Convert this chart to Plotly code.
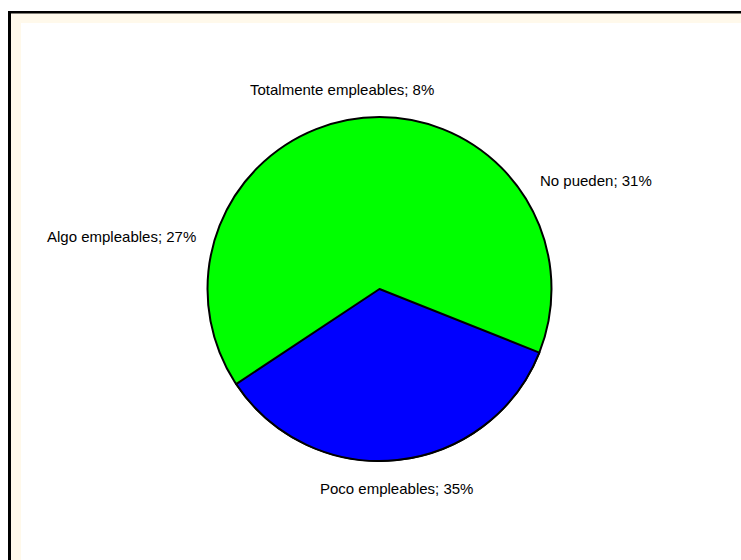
import plotly.graph_objects as go

# Data
categories = ["Poco empleables", "Algo empleables", "Totalmente empleables", "No pueden"]
percent = [35, 27, 8, 31]
slice_colors = ["#0000FF", "rgba(0,0,0,0)", "rgba(0,0,0,0)", "rgba(0,0,0,0)"]
slice_line_widths = [2, 0, 0, 0]

# label positions (paper coords) for each category, same order as categories
label_x = [397 / 741, 121.5 / 741, 342 / 741, 595.5 / 741]
label_y = [1 - 488 / 560, 1 - 236 / 560, 1 - 90 / 560, 1 - 181 / 560]

W, H = 741, 560
dom_x = [207.5 / W, 551.5 / W]
dom_y = [1 - 461 / H, 1 - 117 / H]

fig = go.Figure()

# background disc (green) with black outline
fig.add_trace(go.Pie(
    values=[sum(percent)],
    labels=["Total"],
    marker=dict(colors=["#00FF00"], line=dict(color="black", width=2)),
    textinfo="none", hoverinfo="skip", sort=False, showlegend=False,
    domain=dict(x=dom_x, y=dom_y),
))

fig.add_trace(go.Pie(
    values=percent,
    labels=categories,
    marker=dict(colors=slice_colors, line=dict(color="black", width=slice_line_widths)),
    textinfo="none", sort=False, direction="clockwise", rotation=111.7,
    showlegend=False,
    domain=dict(x=dom_x, y=dom_y),
))

annotations = []
for c, p, x, y in zip(categories, percent, label_x, label_y):
    annotations.append(dict(
        x=x, y=y, xref="paper", yref="paper", text=f"{c}; {p}%",
        showarrow=False, xanchor="center", yanchor="middle",
        font=dict(family="Liberation Sans, Arial, sans-serif", size=15, color="#000000"),
    ))

def px(x):
    return x / W

def py(y):
    return 1 - y / H

shapes = [
    dict(type="rect", xref="paper", yref="paper", x0=px(8), x1=px(800), y0=py(11), y1=py(620),
         fillcolor="black", line=dict(width=0), layer="below"),
    dict(type="rect", xref="paper", yref="paper", x0=px(11), x1=px(800), y0=py(13.5), y1=py(620),
         fillcolor="#FFF9EB", line=dict(width=0), layer="below"),
    dict(type="rect", xref="paper", yref="paper", x0=px(21), x1=px(800), y0=py(23), y1=py(620),
         fillcolor="white", line=dict(width=0), layer="below"),
]

fig.update_layout(
    width=W, height=H,
    margin=dict(l=0, r=0, t=0, b=0),
    paper_bgcolor="white", plot_bgcolor="white",
    annotations=annotations, shapes=shapes,
)

fig.write_html(
    "out.html",
    config={"displayModeBar": False},
    post_script="document.body.style.margin='0px';document.body.style.overflow='hidden';",
)
